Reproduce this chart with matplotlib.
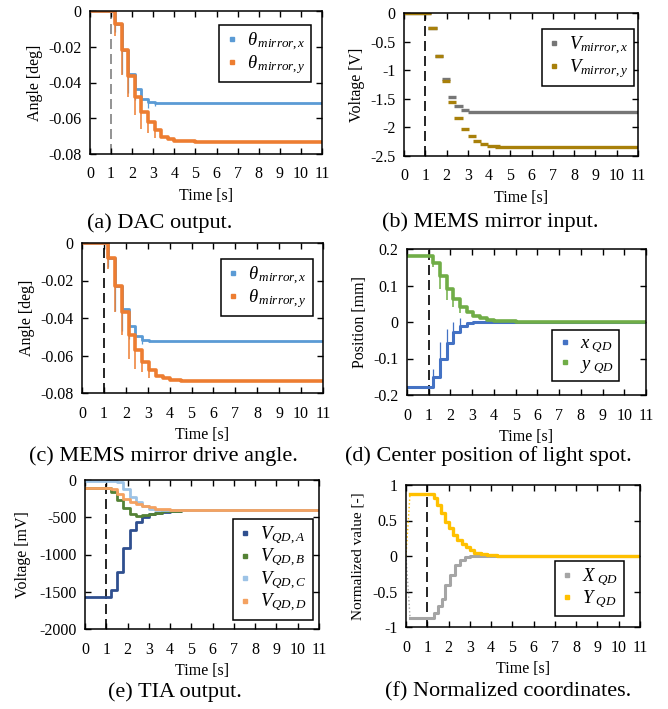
import numpy as np
import matplotlib
matplotlib.use("Agg")
import matplotlib.pyplot as plt
from matplotlib.lines import Line2D

plt.rcParams['font.family'] = ['Liberation Serif', 'DejaVu Serif']
plt.rcParams['mathtext.fontset'] = 'custom'
plt.rcParams['mathtext.rm'] = 'Liberation Serif'
plt.rcParams['mathtext.it'] = 'Liberation Serif:italic'
plt.rcParams['axes.unicode_minus'] = False

# ---- data ----
# (a) DAC output, step levels
a_t = [0, 1.2, 1.51, 1.82, 2.13, 2.44, 2.75, 3.06, 3.37, 3.68, 4.0, 4.5, 5.0, 11]
a_theta_x = [0, -0.0074, -0.022, -0.035, -0.0434, -0.049, -0.051, -0.0517, -0.0517,
             -0.0517, -0.0517, -0.0517, -0.0517, -0.0517]
a_theta_y = [0, -0.0074, -0.0216, -0.0365, -0.048, -0.0564, -0.062, -0.0666, -0.0703,
             -0.0715, -0.0725, -0.073, -0.0733, -0.0733]
# transient spikes at each step (time, lowest value)
a_spike_t = [1.2, 1.51, 1.82, 2.13, 2.44, 2.75, 3.06]
a_spike_x = [-0.012, -0.035, -0.046, -0.050, -0.053, -0.054, -0.053]
a_spike_y = [-0.014, -0.036, -0.048, -0.058, -0.066, -0.068, -0.071]

# (b) MEMS mirror input, dashes (start, end, level)
b_x_start = [0, 1.13, 1.46, 1.79, 2.05, 2.36, 2.68, 3.0]
b_x_end = [1.25, 1.55, 1.83, 2.16, 2.44, 2.77, 3.05, 11]
b_vx = [0, -0.26, -0.75, -1.16, -1.46, -1.63, -1.70, -1.725]
b_y_start = [0, 1.13, 1.46, 1.79, 2.05, 2.36, 2.68, 2.99, 3.25, 3.57, 3.88, 4.3]
b_y_end = [1.25, 1.55, 1.83, 2.16, 2.44, 2.77, 3.07, 3.38, 3.64, 3.96, 4.5, 11]
b_vy = [0, -0.26, -0.75, -1.19, -1.56, -1.84, -2.03, -2.155, -2.24, -2.29, -2.32, -2.335]

# (c) MEMS mirror drive angle
c_t = [0, 1.2, 1.51, 1.82, 2.13, 2.44, 2.75, 3.06, 3.37, 3.68, 4.0, 4.5, 5.0, 11]
c_theta_x = [0, -0.0082, -0.0229, -0.035, -0.0443, -0.0496, -0.0518, -0.0523, -0.0523,
             -0.0523, -0.0523, -0.0523, -0.0523, -0.0523]
c_theta_y = [0, -0.0082, -0.0229, -0.037, -0.0488, -0.0573, -0.0636, -0.0675, -0.0707,
             -0.072, -0.0729, -0.0735, -0.0738, -0.0738]
c_spike_t = [1.2, 1.51, 1.82, 2.13, 2.44, 2.75, 3.06]
c_spike_x = [-0.013, -0.036, -0.047, -0.051, -0.054, -0.054, -0.053]
c_spike_y = [-0.014, -0.037, -0.049, -0.062, -0.067, -0.069, -0.072]

# (d) centre position of light spot
d_t = [0, 1.2, 1.51, 1.82, 2.13, 2.44, 2.75, 3.06, 3.37, 3.68, 4.0, 4.5, 5.0, 11]
d_x = [-0.179, -0.152, -0.101, -0.058, -0.027, -0.01, -0.003, 0, 0, 0, 0, 0, 0, 0]
d_y = [0.18, 0.163, 0.127, 0.09, 0.063, 0.042, 0.028, 0.017, 0.0105, 0.0066, 0.004,
       0.002, 0, 0]
d_spike_t = [1.2, 1.51, 1.82, 2.13, 2.44]
d_spike_x = [-0.13, -0.055, -0.02, 0.0, 0.01]
d_spike_y = [0.15, 0.09, 0.06, 0.04, 0.025]

# (e) TIA output [mV]
e_t = [0, 1.2, 1.5, 1.8, 2.1, 2.4, 2.7, 3.0, 3.3, 3.6, 4.0, 4.5, 11]
e_va = [-1570, -1475, -1230, -917, -671, -559, -492, -460, -440, -425, -415, -408, -405]
e_vb = [-103, -160, -268, -376, -456, -480, -472, -455, -437, -422, -412, -406, -405]
e_vc = [-8, -8, -30, -125, -225, -300, -355, -385, -398, -403, -405, -405, -405]
e_vd = [-103, -125, -192, -250, -290, -320, -345, -368, -385, -395, -402, -405, -405]

# (f) normalized coordinates
f_ramp_t = [0, 0.19]
f_ramp_x = [0, -0.87]
f_ramp_y = [0, 0.88]
f_x_t = [0.19, 1.3, 1.52, 1.68, 1.83, 2.07, 2.3, 2.54, 2.77, 3.0, 11]
f_x = [-0.87, -0.80, -0.71, -0.60, -0.41, -0.27, -0.13, -0.056, -0.015, 0, 0]
f_y_t = [0.19, 1.33, 1.45, 1.64, 1.83, 2.03, 2.22, 2.42, 2.62, 2.83, 3.03, 3.22,
         3.52, 3.83, 4.3, 5.1, 11]
f_y = [0.88, 0.81, 0.72, 0.60, 0.48, 0.39, 0.29, 0.22, 0.175, 0.127, 0.08, 0.047,
       0.024, 0.01, 0.003, 0, 0]

W, H = 668, 709
fig = plt.figure(figsize=(W / 100, H / 100), dpi=100)


def make_axes(left, right, top, bottom):
    ax = fig.add_axes([left / W, 1 - bottom / H, (right - left) / W, (bottom - top) / H])
    ax.set_xlim(0, 11)
    ax.set_xticks(range(12))
    ax.tick_params(direction='in', top=True, right=True, length=4, width=1,
                   labelsize=11.5)
    ax.tick_params(axis='x', pad=9)
    ax.tick_params(axis='y', pad=6)
    for s in ax.spines.values():
        s.set_linewidth(1.1)
    ax.set_xlabel("Time [s]", fontsize=11.5, labelpad=4)
    return ax


def add_legend(ax, colors, labels, x, y):
    handles = [Line2D([], [], ls='none', marker='s', markersize=2.2, color=c) for c in colors]
    leg = ax.legend(handles, labels, loc='upper right', bbox_to_anchor=(x, y),
                    borderaxespad=0, fancybox=False, framealpha=1, edgecolor='black',
                    fontsize=13.5, handlelength=0.7, handletextpad=0.45,
                    labelspacing=0.02, borderpad=0.3)
    leg.get_frame().set_linewidth(1.1)


def vline(ax, color='black'):
    ax.axvline(1, color=color, lw=1.2, dashes=(6, 3), zorder=1)


caption_kw = dict(fontsize=16, ha='center', va='center')

# (a)
ax = make_axes(90, 322, 11, 154)
vline(ax, '#808080')
ax.plot(a_t, a_theta_x, drawstyle='steps-post', color='#5B9BD5', lw=2.0)
ax.vlines(a_spike_t, a_theta_x[:7], a_spike_x, color='#5B9BD5', lw=0.9)
ax.plot(a_t, a_theta_y, drawstyle='steps-post', color='#ED7D31', lw=2.6)
ax.vlines(a_spike_t, a_theta_y[:7], a_spike_y, color='#ED7D31', lw=1.1)
ax.set_ylim(-0.08, 0)
ax.set_yticks([0, -0.02, -0.04, -0.06, -0.08])
ax.set_yticklabels(["0", "-0.02", "-0.04", "-0.06", "-0.08"])
ax.set_ylabel("Angle [deg]", fontsize=11.5, labelpad=4)
add_legend(ax, ['#5B9BD5', '#ED7D31'],
           [r'$\theta_{\,mirror,x}$', r'$\theta_{\,mirror,y}$'], 0.953, 0.902)
fig.text(160 / W, 1 - 223 / H, "(a) DAC output.", **caption_kw)

# (b)
ax = make_axes(404, 638, 13, 156)
vline(ax)
ax.hlines(b_vx, b_x_start, b_x_end, color='#767676', lw=2.4)
ax.hlines(b_vy, b_y_start, b_y_end, color='#A8800A', lw=2.4)
ax.set_ylim(-2.5, 0)
ax.set_yticks([0, -0.5, -1, -1.5, -2, -2.5])
ax.set_yticklabels(["0", "-0.5", "-1", "-1.5", "-2", "-2.5"])
ax.set_ylabel("Voltage [V]", fontsize=11.5, labelpad=4)
add_legend(ax, ['#767676', '#A8800A'],
           [r'$V_{mirror,x}$', r'$V_{mirror,y}$'], 0.983, 0.888)
fig.text(490 / W, 1 - 222 / H, "(b) MEMS mirror input.", **caption_kw)

# (c)
ax = make_axes(82, 323, 243, 393)
vline(ax)
ax.plot(c_t, c_theta_x, drawstyle='steps-post', color='#5B9BD5', lw=2.0)
ax.vlines(c_spike_t, c_theta_x[:7], c_spike_x, color='#5B9BD5', lw=0.9)
ax.plot(c_t, c_theta_y, drawstyle='steps-post', color='#ED7D31', lw=2.6)
ax.vlines(c_spike_t, c_theta_y[:7], c_spike_y, color='#ED7D31', lw=1.1)
ax.set_ylim(-0.08, 0)
ax.set_yticks([0, -0.02, -0.04, -0.06, -0.08])
ax.set_yticklabels(["0", "-0.02", "-0.04", "-0.06", "-0.08"])
ax.set_ylabel("Angle [deg]", fontsize=11.5, labelpad=4)
add_legend(ax, ['#5B9BD5', '#ED7D31'],
           [r'$\theta_{\,mirror,x}$', r'$\theta_{\,mirror,y}$'], 0.958, 0.893)
fig.text(163 / W, 1 - 456 / H, "(c) MEMS mirror drive angle.", **caption_kw)

# (d)
ax = make_axes(407, 646, 249, 395)
vline(ax)
ax.plot(d_t, d_x, drawstyle='steps-post', color='#4472C4', lw=2.2)
ax.vlines(d_spike_t, d_x[:5], d_spike_x, color='#4472C4', lw=0.9)
ax.plot(d_t, d_y, drawstyle='steps-post', color='#70AD47', lw=2.6)
ax.vlines(d_spike_t, d_y[:5], d_spike_y, color='#70AD47', lw=1.1)
ax.set_ylim(-0.2, 0.2)
ax.set_yticks([0.2, 0.1, 0, -0.1, -0.2])
ax.set_yticklabels(["0.2", "0.1", "0", "-0.1", "-0.2"])
ax.set_ylabel("Position [mm]", fontsize=11.5, labelpad=4)
add_legend(ax, ['#4472C4', '#70AD47'],
           [r'$x_{\ QD}$', r'$y_{\ QD}$'], 0.887, 0.445)
fig.text(488 / W, 1 - 456 / H, "(d) Center position of light spot.", **caption_kw)

# (e)
ax = make_axes(85, 319, 480, 629)
vline(ax)
ax.plot(e_t, e_va, drawstyle='steps-post', color='#2F4F8F', lw=2.0)
ax.plot(e_t, e_vb, drawstyle='steps-post', color='#548235', lw=2.0)
ax.plot(e_t, e_vc, drawstyle='steps-post', color='#9DC3E6', lw=2.0)
ax.plot(e_t, e_vd, drawstyle='steps-post', color='#F4A261', lw=2.0)
ax.set_ylim(-2000, 0)
ax.set_yticks([0, -500, -1000, -1500, -2000])
ax.set_yticklabels(["0", "-500", "-1000", "-1500", "-2000"])
ax.set_ylabel("Voltage [mV]", fontsize=11.5, labelpad=6)
add_legend(ax, ['#2F4F8F', '#548235', '#9DC3E6', '#F4A261'],
           [r'$V_{QD,A}$', r'$V_{QD,B}$', r'$V_{QD,C}$', r'$V_{QD,D}$'], 0.974, 0.738)
fig.text(175 / W, 1 - 692 / H, "(e) TIA output.", **caption_kw)

# (f)
ax = make_axes(406, 640, 485, 627)
vline(ax)
ax.plot(f_ramp_t, f_ramp_x, color='#A5A5A5', lw=1.0, ls=':')
ax.plot(f_ramp_t, f_ramp_y, color='#FFC000', lw=1.0, ls=':')
ax.plot(f_x_t, f_x, drawstyle='steps-post', color='#A5A5A5', lw=2.2)
ax.plot(f_y_t, f_y, drawstyle='steps-post', color='#FFC000', lw=2.4)
ax.set_ylim(-1, 1)
ax.set_yticks([1, 0.5, 0, -0.5, -1])
ax.set_yticklabels(["1", "0.5", "0", "-0.5", "-1"])
ax.set_ylabel("Normalized value [-]", fontsize=11, labelpad=6)
add_legend(ax, ['#A5A5A5', '#FFC000'],
           [r'$X_{\ QD}$', r'$Y_{\ QD}$'], 0.932, 0.465)
fig.text(508 / W, 1 - 692 / H, "(f) Normalized coordinates.", **caption_kw)

fig.savefig("out.png", dpi=100)
